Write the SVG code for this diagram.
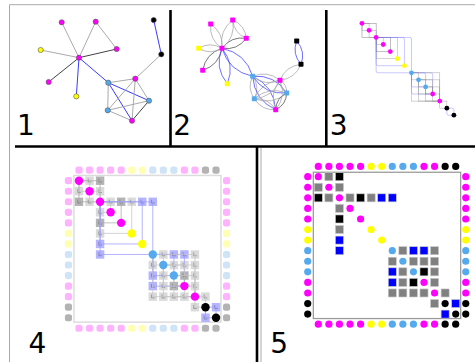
<svg xmlns="http://www.w3.org/2000/svg" xmlns:xlink="http://www.w3.org/1999/xlink" width="475" height="362" viewBox="0 0 475 362">
<style>
.m{fill:#ff00ff}.y{fill:#ffff00}.b{fill:#55aaee}.k{fill:#000}
.pm{fill:#ffb3ff}.py{fill:#ffffb3}.pb{fill:#cfe4f6}.pk{fill:#b3b3b3}
.lbl{font-family:"DejaVu Sans",sans-serif;font-size:28px;fill:#000}
.frameg{stroke:#aaa;stroke-width:1;fill:none}
.frameb{stroke:#000;stroke-width:2.6;fill:none}
#p1 line{stroke-width:1}
#p1 .eg{stroke:#aaa}#p1 .ek{stroke:#444}#p1 .eb{stroke:#3b3bff}
#p1 circle{stroke:#555;stroke-width:0.6}
#p2 path{fill:none;stroke-width:0.8}
#p2 .eg{stroke:#aaa}#p2 .ek{stroke:#555}#p2 .eb{stroke:#4a4aff}
#p3 rect{fill:none;stroke-width:0.07;opacity:0.75}
#p3 .eg{stroke:#888}#p3 .ek{stroke:#555}#p3 .eb{stroke:#6a6aff}
#p4 .lines rect{fill:none;stroke-width:0.1;opacity:0.7}
#p4 .eg{stroke:#c4c4c4}#p4 .ek{stroke:#a8a8a8}#p4 .eb{stroke:#9a9aff}
.q5g{fill:#808080}.q5k{fill:#000}.q5b{fill:#0000ff}
.q4g{fill:#dadada}.q4k{fill:#b4b4b4}.q4b{fill:#b4b4ff}
</style>
<defs>
<circle id="d5" r="0.34"/>
<rect id="s5" x="-0.38" y="-0.38" width="0.76" height="0.76" stroke="#c8c8c8" stroke-width="0.06"/>
<rect id="d4" x="-0.34" y="-0.34" width="0.68" height="0.68" rx="0.24"/>
<g id="s4"><rect x="-0.4" y="-0.4" width="0.8" height="0.8"/><path d="M-0.12 -0.2V0.12H0.18" fill="none" stroke="#555" stroke-width="0.06" opacity="0.7"/></g>
<circle id="c4" r="0.4"/>
<circle id="c3" r="0.34"/>
</defs>

<g id="frames">
<line class="frameg" x1="9.5" y1="4.7" x2="475" y2="4.7"/>
<line class="frameg" x1="9.5" y1="4.7" x2="9.5" y2="362"/>
<line class="frameg" x1="261" y1="148" x2="261" y2="362"/>
<line class="frameb" x1="170.5" y1="10" x2="170.5" y2="147"/>
<line class="frameb" x1="326.3" y1="10" x2="326.3" y2="147"/>
<line class="frameb" x1="15" y1="146.5" x2="475" y2="146.5"/>
<line class="frameb" x1="257" y1="146" x2="257" y2="362"/>
</g>

<g id="labels">
<text class="lbl" x="17" y="135">1</text>
<text class="lbl" x="173.3" y="135">2</text>
<text class="lbl" x="329.8" y="135">3</text>
<text class="lbl" x="28.6" y="353.3">4</text>
<text class="lbl" x="270.2" y="353.3">5</text>
</g>

<g id="p1">
<g id="p1-connectors">
<line class="eg" x1="116.7" y1="49" x2="95.7" y2="21.7"/>
<line class="ek" x1="116.7" y1="49" x2="79" y2="57.7"/>
<line class="eg" x1="95.7" y1="21.7" x2="79" y2="57.7"/>
<line class="eg" x1="79" y1="57.7" x2="61.7" y2="22.3"/>
<line class="ek" x1="79" y1="57.7" x2="48.7" y2="82"/>
<line class="eg" x1="79" y1="57.7" x2="40.7" y2="50"/>
<line class="eb" x1="79" y1="57.7" x2="76.3" y2="96.3"/>
<line class="eb" x1="79" y1="57.7" x2="108.3" y2="82.7"/>
<line class="eg" x1="108.3" y1="82.7" x2="107.7" y2="110.3"/>
<line class="eb" x1="108.3" y1="82.7" x2="149" y2="100.7"/>
<line class="eb" x1="108.3" y1="82.7" x2="132" y2="120.7"/>
<line class="eg" x1="108.3" y1="82.7" x2="135.3" y2="78.7"/>
<line class="eg" x1="107.7" y1="110.3" x2="149" y2="100.7"/>
<line class="eg" x1="107.7" y1="110.3" x2="132" y2="120.7"/>
<line class="eg" x1="107.7" y1="110.3" x2="135.3" y2="78.7"/>
<line class="ek" x1="149" y1="100.7" x2="132" y2="120.7"/>
<line class="eg" x1="149" y1="100.7" x2="135.3" y2="78.7"/>
<line class="eg" x1="132" y1="120.7" x2="135.3" y2="78.7"/>
<line class="eg" x1="135.3" y1="78.7" x2="161.3" y2="54.3"/>
<line class="eb" x1="161.3" y1="54.3" x2="153.7" y2="20"/>
</g>
<g id="p1-n0"><circle class="m" cx="116.7" cy="49" r="2.6"/></g>
<g id="p1-n1"><circle class="m" cx="95.7" cy="21.7" r="2.6"/></g>
<g id="p1-n2"><circle class="m" cx="79" cy="57.7" r="2.6"/></g>
<g id="p1-n3"><circle class="m" cx="61.7" cy="22.3" r="2.6"/></g>
<g id="p1-n4"><circle class="m" cx="48.7" cy="82" r="2.6"/></g>
<g id="p1-n5"><circle class="y" cx="40.7" cy="50" r="2.6"/></g>
<g id="p1-n6"><circle class="y" cx="76.3" cy="96.3" r="2.6"/></g>
<g id="p1-n7"><circle class="b" cx="108.3" cy="82.7" r="2.6"/></g>
<g id="p1-n8"><circle class="b" cx="107.7" cy="110.3" r="2.6"/></g>
<g id="p1-n9"><circle class="b" cx="149" cy="100.7" r="2.6"/></g>
<g id="p1-n10"><circle class="m" cx="132" cy="120.7" r="2.6"/></g>
<g id="p1-n11"><circle class="m" cx="135.3" cy="78.7" r="2.6"/></g>
<g id="p1-n12"><circle class="k" cx="161.3" cy="54.3" r="2.6"/></g>
<g id="p1-n13"><circle class="k" cx="153.7" cy="20" r="2.6"/></g>
</g>

<g id="p2">
<g id="p2-connectors">
<path class="eg" d="M246.3 38.3Q244.99 25.07 232.7 20Q234.01 33.23 246.3 38.3Z"/>
<path class="ek" d="M246.3 38.3Q231.15 36.01 222 48.3Q237.15 50.59 246.3 38.3Z"/>
<path class="eg" d="M232.7 20Q218.86 30.94 222 48.3Q235.84 37.36 232.7 20Z"/>
<path class="eg" d="M222 48.3Q223.64 32.76 210.7 24Q209.06 39.54 222 48.3Z"/>
<path class="ek" d="M222 48.3Q205.75 53.51 202.7 70.3Q218.95 65.09 222 48.3Z"/>
<path class="eg" d="M222 48.3Q210.35 41.31 198.7 48.3Q210.35 55.29 222 48.3Z"/>
<path class="eb" d="M222 48.3Q214.03 67.59 227.3 83.7Q235.27 64.41 222 48.3Z"/>
<path class="eb" d="M222 48.3Q228.95 71.51 252.7 76.3Q245.75 53.09 222 48.3Z"/>
<path class="eg" d="M252.7 76.3Q246.78 87.98 254.3 98.7Q260.22 87.02 252.7 76.3Z"/>
<path class="eb" d="M252.7 76.3Q264.69 94.85 286.7 93Q274.71 74.45 252.7 76.3Z"/>
<path class="eb" d="M252.7 76.3Q254.18 99.9 275.7 109.7Q274.22 86.1 252.7 76.3Z"/>
<path class="eg" d="M252.7 76.3Q265.15 86.49 280 80.3Q267.55 70.11 252.7 76.3Z"/>
<path class="eg" d="M254.3 98.7Q272.21 105.57 286.7 93Q268.79 86.13 254.3 98.7Z"/>
<path class="eg" d="M254.3 98.7Q261.7 110.62 275.7 109.7Q268.3 97.78 254.3 98.7Z"/>
<path class="eg" d="M254.3 98.7Q272.67 97.21 280 80.3Q261.63 81.79 254.3 98.7Z"/>
<path class="ek" d="M286.7 93Q276.19 98.05 275.7 109.7Q286.21 104.65 286.7 93Z"/>
<path class="eg" d="M286.7 93Q287.16 84.64 280 80.3Q279.54 88.66 286.7 93Z"/>
<path class="eg" d="M275.7 109.7Q286.67 96.29 280 80.3Q269.03 93.71 275.7 109.7Z"/>
<path class="eg" d="M280 80.3Q295.3 78.6 301 64.3Q285.7 66 280 80.3Z"/>
<path class="eb" d="M301 64.3Q305.84 51.36 296.7 41Q291.86 53.94 301 64.3Z"/>
</g>
<g id="p2-n0"><rect class="m" x="243.8" y="35.8" width="5" height="5" rx="0.8"/></g>
<g id="p2-n1"><rect class="m" x="230.2" y="17.5" width="5" height="5" rx="0.8"/></g>
<g id="p2-n2"><rect class="m" x="219.5" y="45.8" width="5" height="5" rx="0.8"/></g>
<g id="p2-n3"><rect class="m" x="208.2" y="21.5" width="5" height="5" rx="0.8"/></g>
<g id="p2-n4"><rect class="m" x="200.2" y="67.8" width="5" height="5" rx="0.8"/></g>
<g id="p2-n5"><rect class="y" x="196.2" y="45.8" width="5" height="5" rx="0.8"/></g>
<g id="p2-n6"><rect class="y" x="224.8" y="81.2" width="5" height="5" rx="0.8"/></g>
<g id="p2-n7"><rect class="b" x="250.2" y="73.8" width="5" height="5" rx="0.8"/></g>
<g id="p2-n8"><rect class="b" x="251.8" y="96.2" width="5" height="5" rx="0.8"/></g>
<g id="p2-n9"><rect class="b" x="284.2" y="90.5" width="5" height="5" rx="0.8"/></g>
<g id="p2-n10"><rect class="m" x="273.2" y="107.2" width="5" height="5" rx="0.8"/></g>
<g id="p2-n11"><rect class="m" x="277.5" y="77.8" width="5" height="5" rx="0.8"/></g>
<g id="p2-n12"><rect class="k" x="298.5" y="61.8" width="5" height="5" rx="0.8"/></g>
<g id="p2-n13"><rect class="k" x="294.2" y="38.5" width="5" height="5" rx="0.8"/></g>
</g>

<g id="p3" transform="translate(362,23.3) scale(7.07)">
<g id="p3-connectors">
<rect class="eg" x="0" y="0" width="1" height="1"/>
<rect class="ek" x="0" y="0" width="2" height="2"/>
<rect class="eg" x="1" y="1" width="1" height="1"/>
<rect class="eg" x="2" y="2" width="1" height="1"/>
<rect class="ek" x="2" y="2" width="2" height="2"/>
<rect class="eg" x="2" y="2" width="3" height="3"/>
<rect class="eb" x="2" y="2" width="4" height="4" rx="0.25"/>
<rect class="eb" x="2" y="2" width="5" height="5" rx="0.25"/>
<rect class="eg" x="7" y="7" width="1" height="1"/>
<rect class="eb" x="7" y="7" width="2" height="2" rx="0.25"/>
<rect class="eb" x="7" y="7" width="3" height="3" rx="0.25"/>
<rect class="eg" x="7" y="7" width="4" height="4"/>
<rect class="eg" x="8" y="8" width="1" height="1"/>
<rect class="eg" x="8" y="8" width="2" height="2"/>
<rect class="eg" x="8" y="8" width="3" height="3"/>
<rect class="ek" x="9" y="9" width="1" height="1"/>
<rect class="eg" x="9" y="9" width="2" height="2"/>
<rect class="eg" x="10" y="10" width="1" height="1"/>
<rect class="eg" x="11" y="11" width="1" height="1"/>
<rect class="eb" x="12" y="12" width="1" height="1" rx="0.25"/>
</g>
<use href="#c3" x="0" y="0" class="m"/><use href="#c3" x="1" y="1" class="m"/><use href="#c3" x="2" y="2" class="m"/><use href="#c3" x="3" y="3" class="m"/><use href="#c3" x="4" y="4" class="m"/><use href="#c3" x="5" y="5" class="y"/><use href="#c3" x="6" y="6" class="y"/><use href="#c3" x="7" y="7" class="b"/><use href="#c3" x="8" y="8" class="b"/><use href="#c3" x="9" y="9" class="b"/><use href="#c3" x="10" y="10" class="m"/><use href="#c3" x="11" y="11" class="m"/><use href="#c3" x="12" y="12" class="k"/><use href="#c3" x="13" y="13" class="k"/>
</g>

<g id="p4" transform="translate(79,180.7) scale(10.54)">
<rect x="-0.48" y="-0.5" width="13.95" height="13.92" fill="none" stroke="#dcdcdc" stroke-width="0.14"/>
<g id="p4-border">
<use href="#d4" x="0" y="-1" class="pm"/><use href="#d4" x="1" y="-1" class="pm"/><use href="#d4" x="2" y="-1" class="pm"/><use href="#d4" x="3" y="-1" class="pm"/><use href="#d4" x="4" y="-1" class="pm"/><use href="#d4" x="5" y="-1" class="py"/><use href="#d4" x="6" y="-1" class="py"/><use href="#d4" x="7" y="-1" class="pb"/><use href="#d4" x="8" y="-1" class="pb"/><use href="#d4" x="9" y="-1" class="pb"/><use href="#d4" x="10" y="-1" class="pm"/><use href="#d4" x="11" y="-1" class="pm"/><use href="#d4" x="12" y="-1" class="pk"/><use href="#d4" x="13" y="-1" class="pk"/>
<use href="#d4" x="0" y="14" class="pm"/><use href="#d4" x="1" y="14" class="pm"/><use href="#d4" x="2" y="14" class="pm"/><use href="#d4" x="3" y="14" class="pm"/><use href="#d4" x="4" y="14" class="pm"/><use href="#d4" x="5" y="14" class="py"/><use href="#d4" x="6" y="14" class="py"/><use href="#d4" x="7" y="14" class="pb"/><use href="#d4" x="8" y="14" class="pb"/><use href="#d4" x="9" y="14" class="pb"/><use href="#d4" x="10" y="14" class="pm"/><use href="#d4" x="11" y="14" class="pm"/><use href="#d4" x="12" y="14" class="pk"/><use href="#d4" x="13" y="14" class="pk"/>
<use href="#d4" y="0" x="-1" class="pm"/><use href="#d4" y="1" x="-1" class="pm"/><use href="#d4" y="2" x="-1" class="pm"/><use href="#d4" y="3" x="-1" class="pm"/><use href="#d4" y="4" x="-1" class="pm"/><use href="#d4" y="5" x="-1" class="py"/><use href="#d4" y="6" x="-1" class="py"/><use href="#d4" y="7" x="-1" class="pb"/><use href="#d4" y="8" x="-1" class="pb"/><use href="#d4" y="9" x="-1" class="pb"/><use href="#d4" y="10" x="-1" class="pm"/><use href="#d4" y="11" x="-1" class="pm"/><use href="#d4" y="12" x="-1" class="pk"/><use href="#d4" y="13" x="-1" class="pk"/>
<use href="#d4" y="0" x="14" class="pm"/><use href="#d4" y="1" x="14" class="pm"/><use href="#d4" y="2" x="14" class="pm"/><use href="#d4" y="3" x="14" class="pm"/><use href="#d4" y="4" x="14" class="pm"/><use href="#d4" y="5" x="14" class="py"/><use href="#d4" y="6" x="14" class="py"/><use href="#d4" y="7" x="14" class="pb"/><use href="#d4" y="8" x="14" class="pb"/><use href="#d4" y="9" x="14" class="pb"/><use href="#d4" y="10" x="14" class="pm"/><use href="#d4" y="11" x="14" class="pm"/><use href="#d4" y="12" x="14" class="pk"/><use href="#d4" y="13" x="14" class="pk"/>
</g>
<g id="p4-cells">
<use href="#s4" x="1" y="0" class="q4g"/><use href="#s4" x="0" y="1" class="q4g"/>
<use href="#s4" x="2" y="0" class="q4k"/><use href="#s4" x="0" y="2" class="q4k"/>
<use href="#s4" x="2" y="1" class="q4g"/><use href="#s4" x="1" y="2" class="q4g"/>
<use href="#s4" x="3" y="2" class="q4g"/><use href="#s4" x="2" y="3" class="q4g"/>
<use href="#s4" x="4" y="2" class="q4k"/><use href="#s4" x="2" y="4" class="q4k"/>
<use href="#s4" x="5" y="2" class="q4g"/><use href="#s4" x="2" y="5" class="q4g"/>
<use href="#s4" x="6" y="2" class="q4b"/><use href="#s4" x="2" y="6" class="q4b"/>
<use href="#s4" x="7" y="2" class="q4b"/><use href="#s4" x="2" y="7" class="q4b"/>
<use href="#s4" x="8" y="7" class="q4g"/><use href="#s4" x="7" y="8" class="q4g"/>
<use href="#s4" x="9" y="7" class="q4b"/><use href="#s4" x="7" y="9" class="q4b"/>
<use href="#s4" x="10" y="7" class="q4b"/><use href="#s4" x="7" y="10" class="q4b"/>
<use href="#s4" x="11" y="7" class="q4g"/><use href="#s4" x="7" y="11" class="q4g"/>
<use href="#s4" x="9" y="8" class="q4g"/><use href="#s4" x="8" y="9" class="q4g"/>
<use href="#s4" x="10" y="8" class="q4g"/><use href="#s4" x="8" y="10" class="q4g"/>
<use href="#s4" x="11" y="8" class="q4g"/><use href="#s4" x="8" y="11" class="q4g"/>
<use href="#s4" x="10" y="9" class="q4k"/><use href="#s4" x="9" y="10" class="q4k"/>
<use href="#s4" x="11" y="9" class="q4g"/><use href="#s4" x="9" y="11" class="q4g"/>
<use href="#s4" x="11" y="10" class="q4g"/><use href="#s4" x="10" y="11" class="q4g"/>
<use href="#s4" x="12" y="11" class="q4g"/><use href="#s4" x="11" y="12" class="q4g"/>
<use href="#s4" x="13" y="12" class="q4b"/><use href="#s4" x="12" y="13" class="q4b"/>
</g>
<g class="lines" id="p4-connectors">
<rect class="eg" x="0" y="0" width="1" height="1"/>
<rect class="ek" x="0" y="0" width="2" height="2"/>
<rect class="eg" x="1" y="1" width="1" height="1"/>
<rect class="eg" x="2" y="2" width="1" height="1"/>
<rect class="ek" x="2" y="2" width="2" height="2"/>
<rect class="eg" x="2" y="2" width="3" height="3"/>
<rect class="eb" x="2" y="2" width="4" height="4"/>
<rect class="eb" x="2" y="2" width="5" height="5"/>
<rect class="eg" x="7" y="7" width="1" height="1"/>
<rect class="eb" x="7" y="7" width="2" height="2"/>
<rect class="eb" x="7" y="7" width="3" height="3"/>
<rect class="eg" x="7" y="7" width="4" height="4"/>
<rect class="eg" x="8" y="8" width="1" height="1"/>
<rect class="eg" x="8" y="8" width="2" height="2"/>
<rect class="eg" x="8" y="8" width="3" height="3"/>
<rect class="ek" x="9" y="9" width="1" height="1"/>
<rect class="eg" x="9" y="9" width="2" height="2"/>
<rect class="eg" x="10" y="10" width="1" height="1"/>
<rect class="eg" x="11" y="11" width="1" height="1"/>
<rect class="eb" x="12" y="12" width="1" height="1"/>
</g>
<use href="#c4" x="0" y="0" class="m"/><use href="#c4" x="1" y="1" class="m"/><use href="#c4" x="2" y="2" class="m"/><use href="#c4" x="3" y="3" class="m"/><use href="#c4" x="4" y="4" class="m"/><use href="#c4" x="5" y="5" class="y"/><use href="#c4" x="6" y="6" class="y"/><use href="#c4" x="7" y="7" class="b"/><use href="#c4" x="8" y="8" class="b"/><use href="#c4" x="9" y="9" class="b"/><use href="#c4" x="10" y="10" class="m"/><use href="#c4" x="11" y="11" class="m"/><use href="#c4" x="12" y="12" class="k"/><use href="#c4" x="13" y="13" class="k"/>
</g>

<g id="p5" transform="translate(318.3,176.7) scale(10.57)">
<rect x="-0.47" y="-0.42" width="13.94" height="13.84" fill="none" stroke="#9a9a9a" stroke-width="0.12"/>
<g id="p5-border">
<use href="#d5" x="0" y="-0.97" class="m"/><use href="#d5" x="1" y="-0.97" class="m"/><use href="#d5" x="2" y="-0.97" class="m"/><use href="#d5" x="3" y="-0.97" class="m"/><use href="#d5" x="4" y="-0.97" class="m"/><use href="#d5" x="5" y="-0.97" class="y"/><use href="#d5" x="6" y="-0.97" class="y"/><use href="#d5" x="7" y="-0.97" class="b"/><use href="#d5" x="8" y="-0.97" class="b"/><use href="#d5" x="9" y="-0.97" class="b"/><use href="#d5" x="10" y="-0.97" class="m"/><use href="#d5" x="11" y="-0.97" class="m"/><use href="#d5" x="12" y="-0.97" class="k"/><use href="#d5" x="13" y="-0.97" class="k"/>
<use href="#d5" x="0" y="13.95" class="m"/><use href="#d5" x="1" y="13.95" class="m"/><use href="#d5" x="2" y="13.95" class="m"/><use href="#d5" x="3" y="13.95" class="m"/><use href="#d5" x="4" y="13.95" class="m"/><use href="#d5" x="5" y="13.95" class="y"/><use href="#d5" x="6" y="13.95" class="y"/><use href="#d5" x="7" y="13.95" class="b"/><use href="#d5" x="8" y="13.95" class="b"/><use href="#d5" x="9" y="13.95" class="b"/><use href="#d5" x="10" y="13.95" class="m"/><use href="#d5" x="11" y="13.95" class="m"/><use href="#d5" x="12" y="13.95" class="k"/><use href="#d5" x="13" y="13.95" class="k"/>
<use href="#d5" y="0" x="-1" class="m"/><use href="#d5" y="1" x="-1" class="m"/><use href="#d5" y="2" x="-1" class="m"/><use href="#d5" y="3" x="-1" class="m"/><use href="#d5" y="4" x="-1" class="m"/><use href="#d5" y="5" x="-1" class="y"/><use href="#d5" y="6" x="-1" class="y"/><use href="#d5" y="7" x="-1" class="b"/><use href="#d5" y="8" x="-1" class="b"/><use href="#d5" y="9" x="-1" class="b"/><use href="#d5" y="10" x="-1" class="m"/><use href="#d5" y="11" x="-1" class="m"/><use href="#d5" y="12" x="-1" class="k"/><use href="#d5" y="13" x="-1" class="k"/>
<use href="#d5" y="0" x="13.95" class="m"/><use href="#d5" y="1" x="13.95" class="m"/><use href="#d5" y="2" x="13.95" class="m"/><use href="#d5" y="3" x="13.95" class="m"/><use href="#d5" y="4" x="13.95" class="m"/><use href="#d5" y="5" x="13.95" class="y"/><use href="#d5" y="6" x="13.95" class="y"/><use href="#d5" y="7" x="13.95" class="b"/><use href="#d5" y="8" x="13.95" class="b"/><use href="#d5" y="9" x="13.95" class="b"/><use href="#d5" y="10" x="13.95" class="m"/><use href="#d5" y="11" x="13.95" class="m"/><use href="#d5" y="12" x="13.95" class="k"/><use href="#d5" y="13" x="13.95" class="k"/>
</g>
<g id="p5-cells">
<use href="#s5" x="1" y="0" class="q5g"/><use href="#s5" x="0" y="1" class="q5g"/>
<use href="#s5" x="2" y="0" class="q5k"/><use href="#s5" x="0" y="2" class="q5k"/>
<use href="#s5" x="2" y="1" class="q5g"/><use href="#s5" x="1" y="2" class="q5g"/>
<use href="#s5" x="3" y="2" class="q5g"/><use href="#s5" x="2" y="3" class="q5g"/>
<use href="#s5" x="4" y="2" class="q5k"/><use href="#s5" x="2" y="4" class="q5k"/>
<use href="#s5" x="5" y="2" class="q5g"/><use href="#s5" x="2" y="5" class="q5g"/>
<use href="#s5" x="6" y="2" class="q5b"/><use href="#s5" x="2" y="6" class="q5b"/>
<use href="#s5" x="7" y="2" class="q5b"/><use href="#s5" x="2" y="7" class="q5b"/>
<use href="#s5" x="8" y="7" class="q5g"/><use href="#s5" x="7" y="8" class="q5g"/>
<use href="#s5" x="9" y="7" class="q5b"/><use href="#s5" x="7" y="9" class="q5b"/>
<use href="#s5" x="10" y="7" class="q5b"/><use href="#s5" x="7" y="10" class="q5b"/>
<use href="#s5" x="11" y="7" class="q5g"/><use href="#s5" x="7" y="11" class="q5g"/>
<use href="#s5" x="9" y="8" class="q5g"/><use href="#s5" x="8" y="9" class="q5g"/>
<use href="#s5" x="10" y="8" class="q5g"/><use href="#s5" x="8" y="10" class="q5g"/>
<use href="#s5" x="11" y="8" class="q5g"/><use href="#s5" x="8" y="11" class="q5g"/>
<use href="#s5" x="10" y="9" class="q5k"/><use href="#s5" x="9" y="10" class="q5k"/>
<use href="#s5" x="11" y="9" class="q5g"/><use href="#s5" x="9" y="11" class="q5g"/>
<use href="#s5" x="11" y="10" class="q5g"/><use href="#s5" x="10" y="11" class="q5g"/>
<use href="#s5" x="12" y="11" class="q5g"/><use href="#s5" x="11" y="12" class="q5g"/>
<use href="#s5" x="13" y="12" class="q5b"/><use href="#s5" x="12" y="13" class="q5b"/>
</g>
<use href="#d5" x="0" y="0" class="m"/><use href="#d5" x="1" y="1" class="m"/><use href="#d5" x="2" y="2" class="m"/><use href="#d5" x="3" y="3" class="m"/><use href="#d5" x="4" y="4" class="m"/><use href="#d5" x="5" y="5" class="y"/><use href="#d5" x="6" y="6" class="y"/><use href="#d5" x="7" y="7" class="b"/><use href="#d5" x="8" y="8" class="b"/><use href="#d5" x="9" y="9" class="b"/><use href="#d5" x="10" y="10" class="m"/><use href="#d5" x="11" y="11" class="m"/><use href="#d5" x="12" y="12" class="k"/><use href="#d5" x="13" y="13" class="k"/>
</g>
</svg>
